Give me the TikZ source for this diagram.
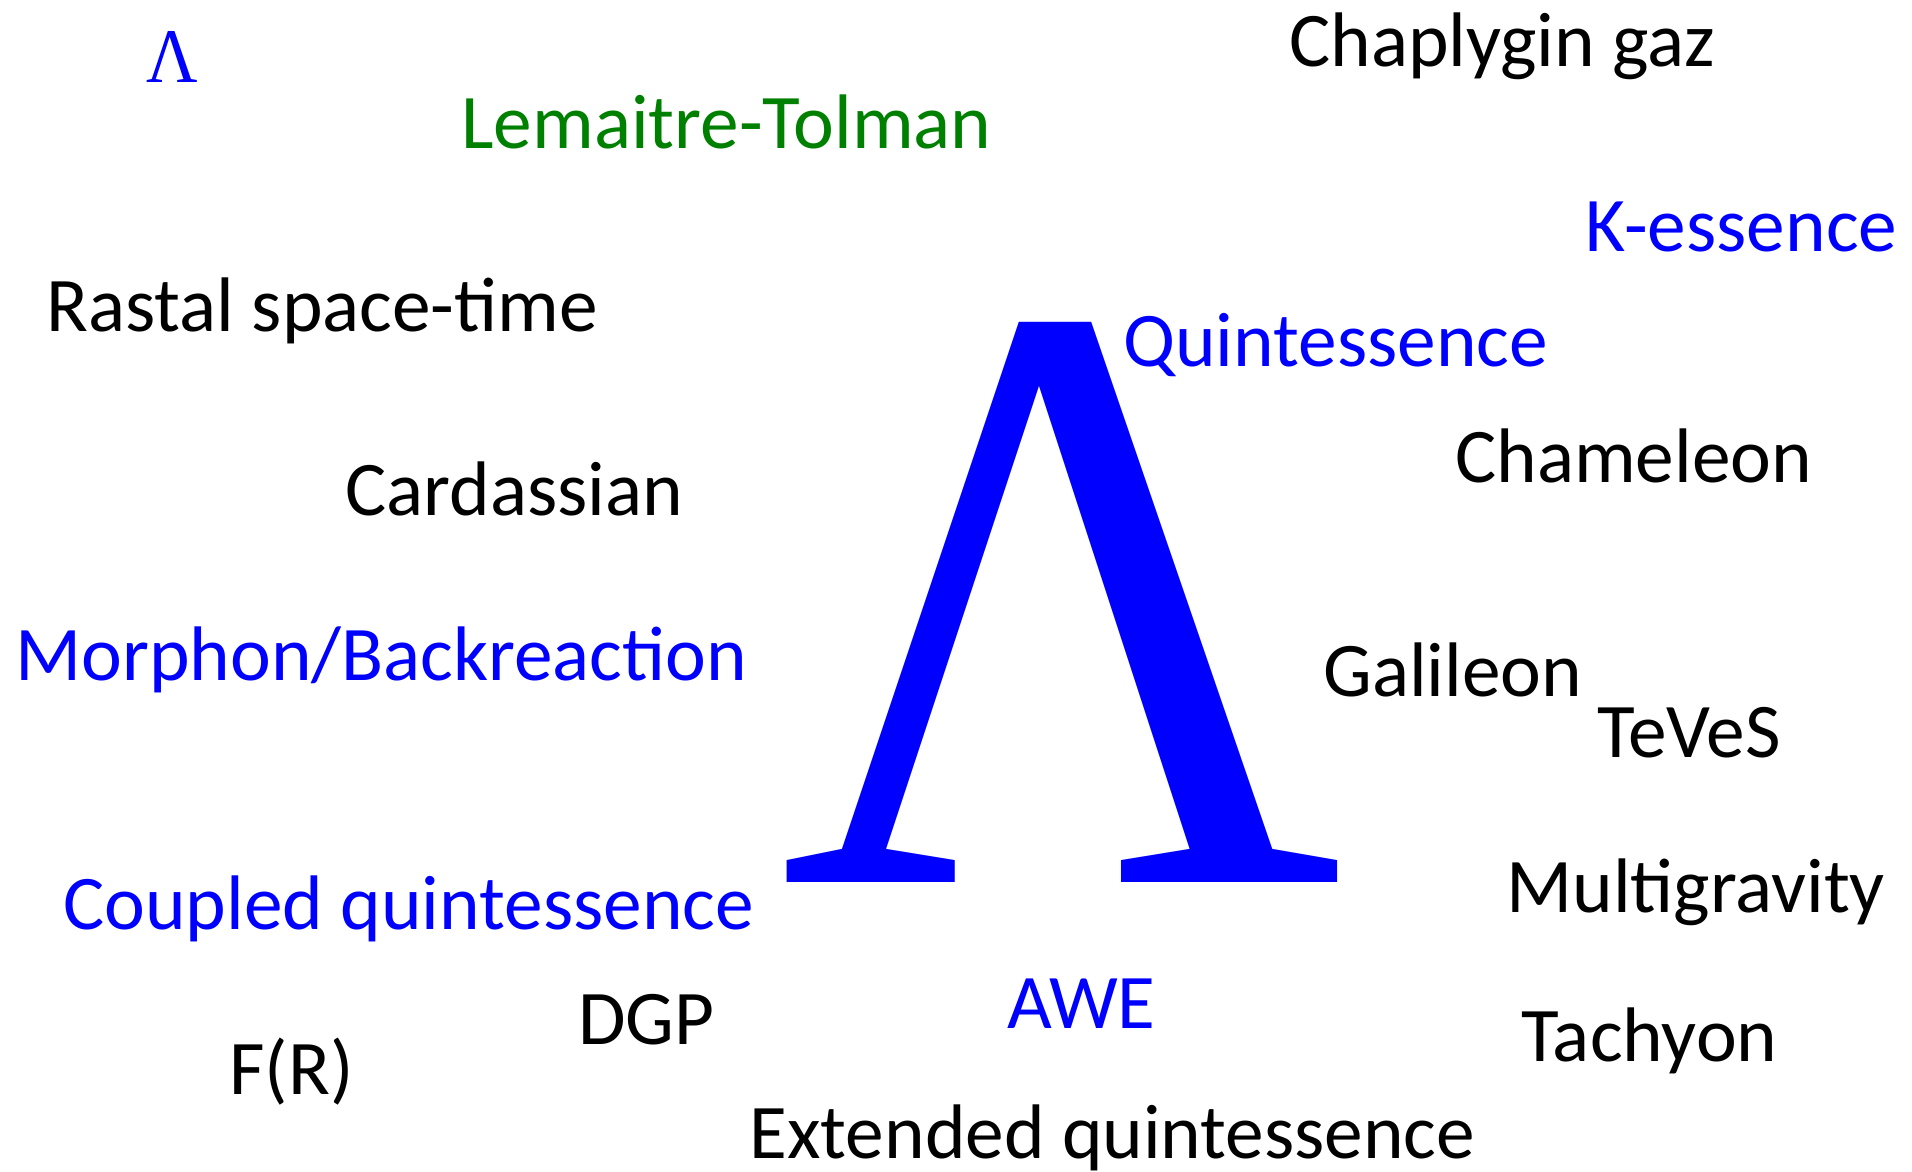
\documentclass[tikz,border=0pt]{standalone}
\usepackage{fontspec}
\setmainfont{Carlito}
\newfontfamily\lambdafont{Liberation Serif}
\usepackage{tikz}
\usetikzlibrary{positioning}
\definecolor{darkgreen}{rgb}{0,0.5,0}

\tikzset{
  model/.style={inner sep=0pt, anchor=base west, font=\fontsize{44}{50}\selectfont},
  bluemodel/.style={model, text=blue},
}

\begin{document}
\begin{tikzpicture}[x=0.02cm, y=-0.02cm]
		\useasboundingbox (0,0) rectangle (1912,1172);
		\node(biglambda) [inner sep=0pt, anchor=base west, text=blue, font=\lambdafont\fontsize{483}{500}\selectfont] at (779,882) {\scalebox{0.92}[1]{Λ}};
		\node(smalllambda) [inner sep=0pt, anchor=base west, text=blue, font=\lambdafont\fontsize{44}{50}\selectfont] at (146,83) {\scalebox{0.92}[1]{Λ}};
		
		\node(chaplygin)  [model] at (1289,67)  {Chaplygin gaz};
		\node(lemaitre)   [model, text=darkgreen] at (461,149)  {Lemaitre-Tolman};
		\node(kessence)   [bluemodel] at (1585,252) {K-essence};
		\node(rastal)     [model] at (46,332)   {Rastal space-time};
		\node(quint)      [bluemodel] at (1123,366) {Quintessence};
		\node(chameleon)  [model] at (1455,482) {Chameleon};
		\node(cardassian) [model] at (345,515)  {Cardassian};
		\node(morphon)    [bluemodel] at (15,680)   {Morphon/Backreaction};
		\node(galileon)   [model] at (1323,696) {Galileon};
		\node(teves)      [model] at (1597,757) {TeVeS};
		\node(multigrav)  [model] at (1506,912) {Multigravity};
		\node(coupled)    [bluemodel] at (63,929)   {Coupled quintessence};
		\node(dgp)        [model] at (578,1044) {DGP};
		\node(awe)        [bluemodel] at (1007,1028) {AWE};
		\node(tachyon)    [model] at (1521,1061) {Tachyon};
		\node(fr)         [model] at (229,1094) {F(R)};
		\node(extended)   [model] at (749,1158) {Extended quintessence};
\end{tikzpicture}
\end{document}
